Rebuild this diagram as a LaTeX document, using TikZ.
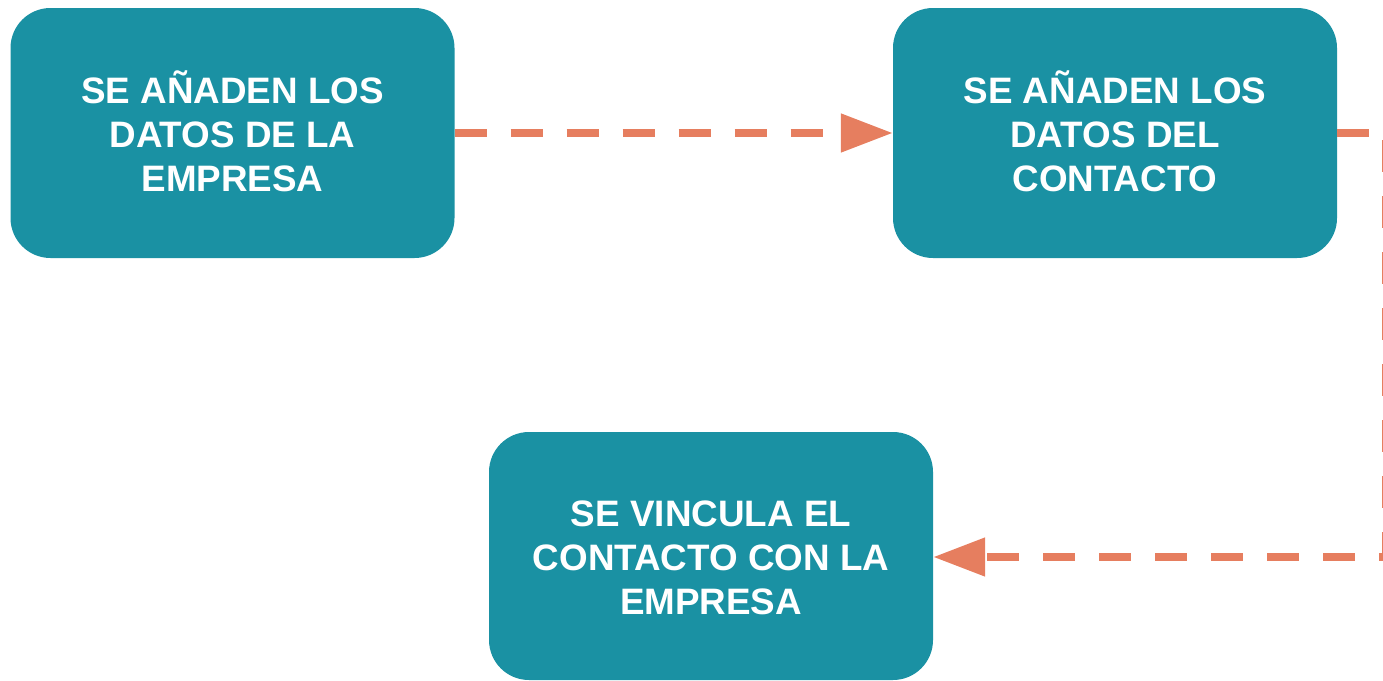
\documentclass[tikz,border=0pt]{standalone}
\usepackage{fontspec}
\setmainfont{Liberation Sans}
\usetikzlibrary{arrows.meta}
\definecolor{teal1}{HTML}{1A91A3}
\definecolor{orange1}{HTML}{E67E5F}
\begin{document}
\begin{tikzpicture}[x=1pt,y=1pt,
  stepbox/.style={fill=teal1, draw=none, rounded corners=40pt, minimum width=444pt, minimum height=250pt, inner sep=0pt, text width=420pt, align=center, text=white, font=\bfseries\fontsize{36.8}{44}\selectfont},
  boxtext/.style={text=white, align=center, font=\bfseries\fontsize{36.8}{44}\selectfont},
  flow/.style={draw=orange1, line width=8pt, dash pattern=on 32pt off 24pt, -{Triangle[length=52pt,width=37pt]}}]
\clip (0,0) rectangle (1383,-680);
\node[stepbox] (a) at (232.5,-133) {};
\node[stepbox] (b) at (1115,-133) {};
\node[stepbox, minimum height=248pt] (c) at (711,-556) {};
\node[boxtext] (ta) at ([yshift=2pt]a.center) {SE AÑADEN LOS\\DATOS DE LA\\EMPRESA};
\node[boxtext] (tb) at ([yshift=2pt]b.center) {SE AÑADEN LOS\\DATOS DEL\\CONTACTO};
\node[boxtext] (tc) at ([yshift=-2pt]c.center) {SE VINCULA EL\\CONTACTO CON LA\\EMPRESA};
\coordinate (r1) at (1386,-133);
\coordinate (r2) at (1386,-557);
\draw[flow] (a.east |- r1) -- (b.west |- r1);
\draw[flow] (b.east |- r1) -- (r1) -- (r2) -- (c.east |- r2);
\end{tikzpicture}
\end{document}
